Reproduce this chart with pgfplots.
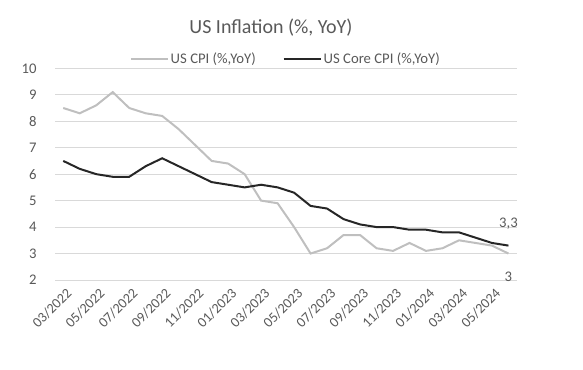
\documentclass[border=0pt]{standalone}
\usepackage{pgfplots}
\pgfplotsset{compat=1.18}
\usepackage{fontspec}
\setmainfont{Carlito}
\definecolor{txt}{HTML}{595959}
\definecolor{gridc}{HTML}{D9D9D9}
\definecolor{cpi}{HTML}{BFBFBF}
\definecolor{core}{HTML}{262626}
\begin{document}
\begin{tikzpicture}
\useasboundingbox (0,0) rectangle (583bp,370bp);
\begin{axis}[
  at={(55bp,90bp)}, anchor=south west,
  scale only axis, width=461.7bp, height=211.7bp,
  xmin=-0.5, xmax=27.5, ymin=2, ymax=10,
  ytick={2,3,...,10},
  xtick={0,2,...,26},
  xticklabels={03/2022,05/2022,07/2022,09/2022,11/2022,01/2023,03/2023,05/2023,07/2023,09/2023,11/2023,01/2024,03/2024,05/2024},
  /pgf/number format/assume math mode=true,
  major tick length=0pt,
  axis line style={draw=none},
  ymajorgrids, xmajorgrids=false, grid style={draw=gridc, line width=0.8bp},
  yticklabel style={font=\fontsize{14.7bp}{16bp}\selectfont, text=txt, xshift=-15bp},
  xticklabel style={font=\fontsize{14.2bp}{16bp}\selectfont, text=txt, rotate=45, anchor=east, xshift=0bp, yshift=-12bp},
  legend style={at={(0.155,1.044)}, anchor=west, draw=none, fill=none,
    font=\fontsize{14.7bp}{16bp}\selectfont, text=txt, legend columns=2,
    /tikz/every even column/.append style={column sep=25bp}},
  legend image code/.code={\draw[#1] (0bp,0bp) -- (37bp,0bp);},
  clip=false,
]
\addplot[cpi, line width=2bp] coordinates {
(0,8.5)(1,8.3)(2,8.6)(3,9.1)(4,8.5)(5,8.3)(6,8.2)(7,7.7)(8,7.1)(9,6.5)
(10,6.4)(11,6.0)(12,5.0)(13,4.9)(14,4.0)(15,3.0)(16,3.2)(17,3.7)(18,3.7)(19,3.2)
(20,3.1)(21,3.4)(22,3.1)(23,3.2)(24,3.5)(25,3.4)(26,3.3)(27,3.0)};
\addlegendentry{US CPI (\%,YoY)}
\addplot[core, line width=2bp] coordinates {
(0,6.5)(1,6.2)(2,6.0)(3,5.9)(4,5.9)(5,6.3)(6,6.6)(7,6.3)(8,6.0)(9,5.7)
(10,5.6)(11,5.5)(12,5.6)(13,5.5)(14,5.3)(15,4.8)(16,4.7)(17,4.3)(18,4.1)(19,4.0)
(20,4.0)(21,3.9)(22,3.9)(23,3.8)(24,3.8)(25,3.6)(26,3.4)(27,3.3)};
\addlegendentry{US Core CPI (\%,YoY)}
\node[text=txt, font=\fontsize{14.7bp}{16bp}\selectfont] at (axis cs:27,4.12) {3,3};
\node[text=txt, font=\fontsize{14.7bp}{16bp}\selectfont] at (axis cs:27,2.11) {3};
\end{axis}
\node[text=txt, font=\fontsize{20bp}{24bp}\selectfont] at (271bp,342bp) {US Inflation (\%, YoY)};
\end{tikzpicture}
\end{document}
